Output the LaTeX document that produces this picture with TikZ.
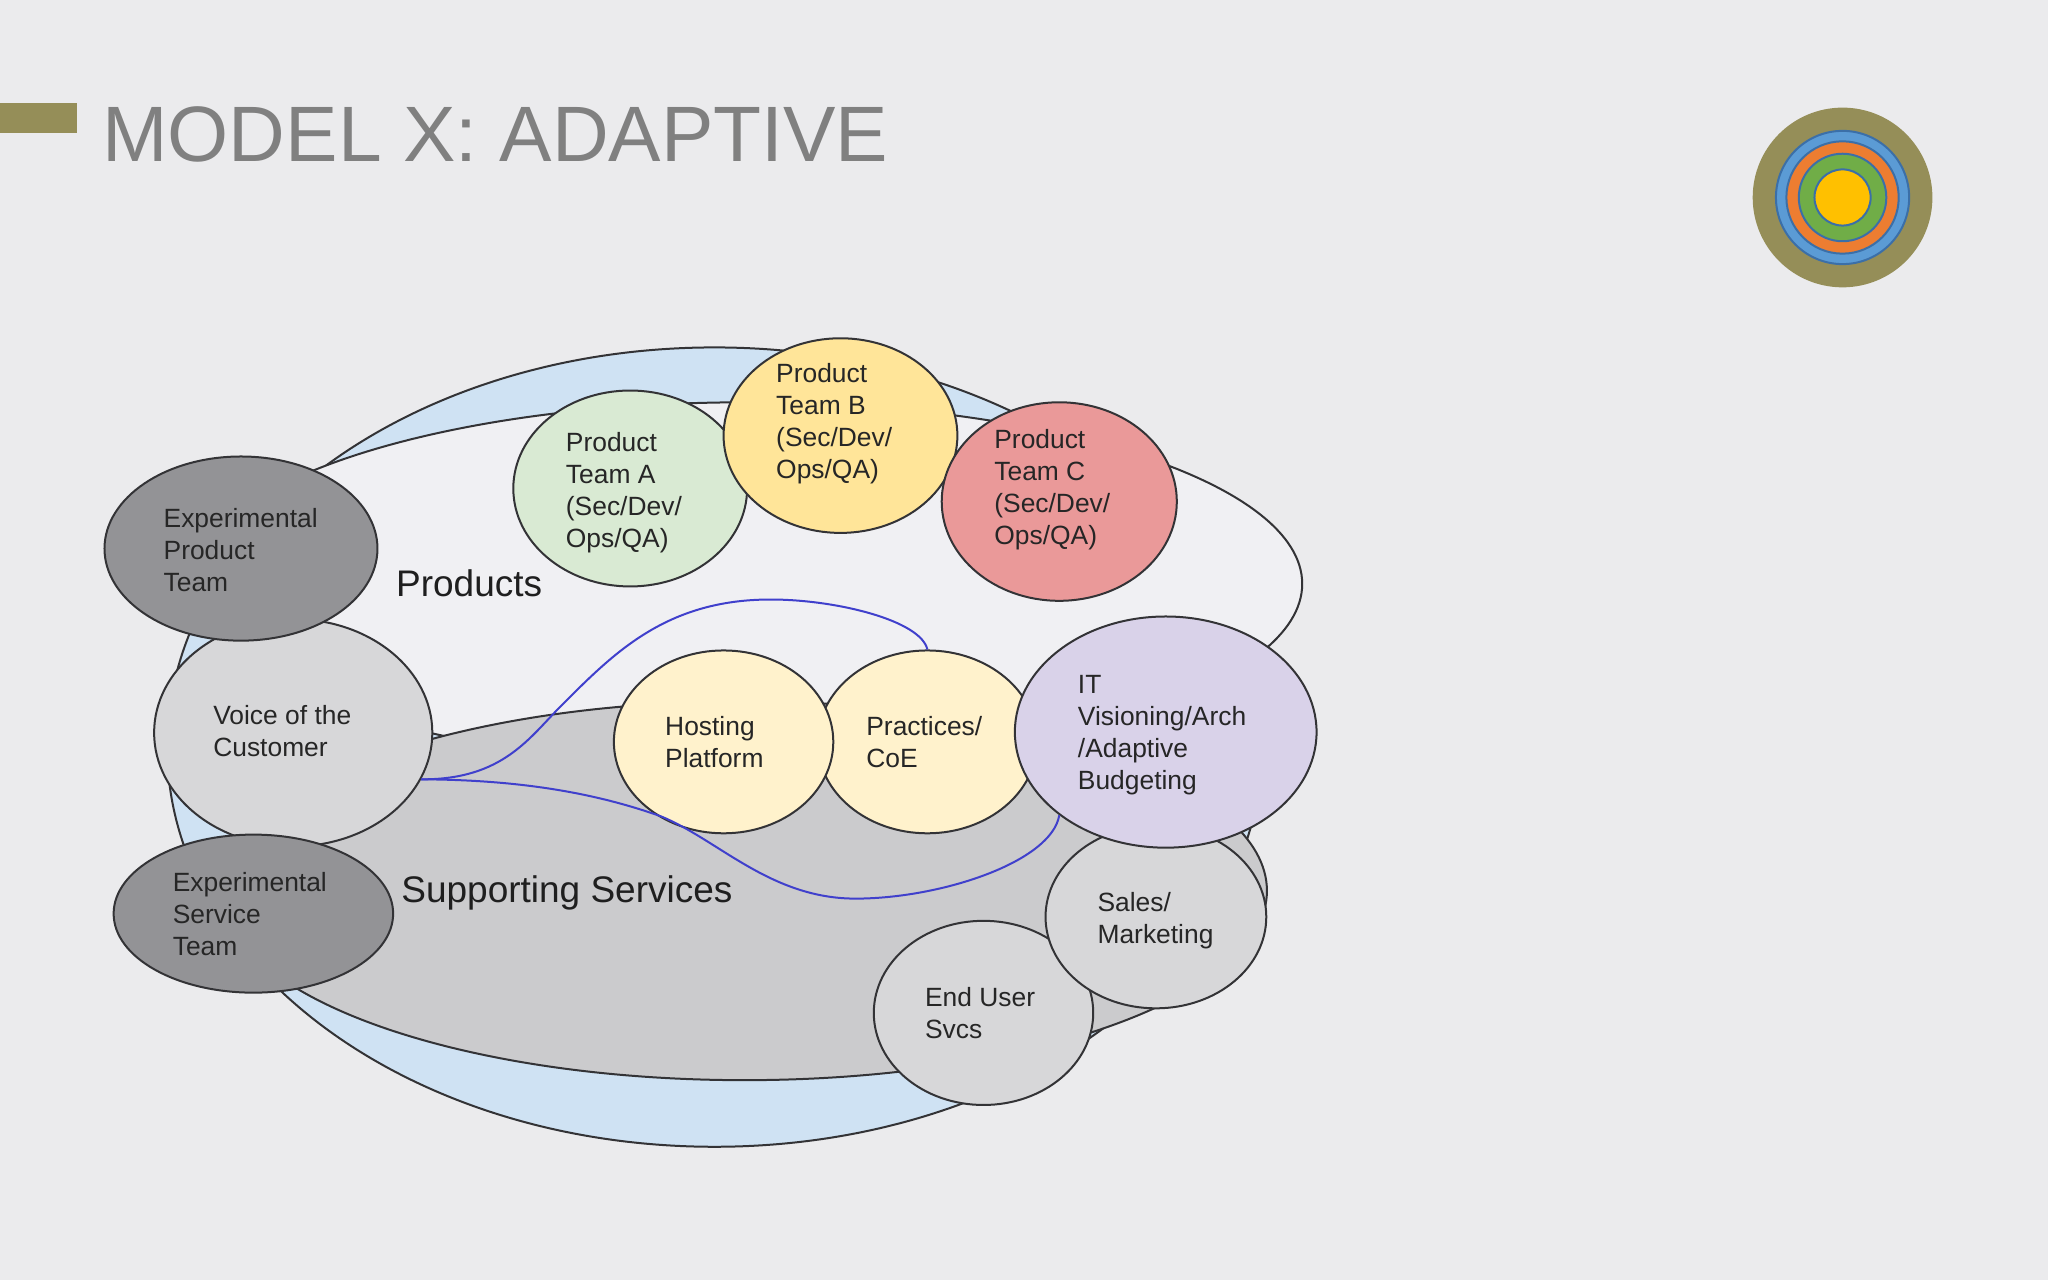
\documentclass[tikz,border=0pt]{standalone}
\usepackage{fontspec}
\setmainfont{Liberation Sans}
\usetikzlibrary{shapes.geometric}
\definecolor{bgc}{HTML}{EBEBED}
\definecolor{olive}{HTML}{958E58}
\definecolor{edgec}{HTML}{333336}
\definecolor{curvec}{HTML}{4040CC}
\definecolor{ringc}{HTML}{3B6FA8}
\definecolor{bluefill}{HTML}{CFE2F3}
\definecolor{prodfill}{HTML}{F0F0F3}
\definecolor{greyfill}{HTML}{CBCBCD}
\definecolor{darkgrey}{HTML}{939396}
\definecolor{lightgrey}{HTML}{D7D7D9}
\definecolor{teamA}{HTML}{D9EAD3}
\definecolor{teamB}{HTML}{FFE599}
\definecolor{teamC}{HTML}{EA9999}
\definecolor{cream}{HTML}{FFF2CC}
\definecolor{lilac}{HTML}{D9D2E9}
\definecolor{ringblue}{HTML}{5B9BD5}
\definecolor{ringorange}{HTML}{ED7D31}
\definecolor{ringgreen}{HTML}{70AD47}
\definecolor{ringyellow}{HTML}{FFC000}
\tikzset{
  x=0.6531pt, y=-0.6531pt,
  ell/.style n args={3}{ellipse, draw=edgec, line width=1pt, fill=#3, inner sep=0pt, minimum width=#1*0.6531pt, minimum height=#2*0.6531pt},
  lbl/.style={anchor=west, inner sep=0pt, align=left, text=black!85, font=\fontsize{13.2}{16}\selectfont},
  biglbl/.style={anchor=west, inner sep=0pt, text=black!88, font=\fontsize{18.5}{22}\selectfont},
  link/.style={draw=curvec, line width=1pt},
  ring/.style n args={2}{circle, draw=ringc, line width=1pt, fill=#2, inner sep=0pt, minimum size=#1*0.6531pt}
}
\begin{document}
\begin{tikzpicture}
\useasboundingbox (0,0) rectangle (1568,980);
\fill[bgc] (0,0) rectangle (1568,980);
% title
\fill[olive] (0,79) rectangle (59,102);
\node[anchor=base west, inner sep=0pt, text=black!50, font=\fontsize{39.3}{47}\selectfont] (title) at (78,124) {MODEL X: ADAPTIVE};
% logo
\node[circle, fill=olive, inner sep=0pt, minimum size=137.6*0.6531pt] (logo) at (1410.7,151.2) {};
\node[ring={102}{ringblue}] (r1) at (1410.7,151.2) {};
\node[ring={86}{ringorange}] (r2) at (1410.7,151.2) {};
\node[ring={67}{ringgreen}] (r3) at (1410.7,151.2) {};
\node[ring={43}{ringyellow}] (r4) at (1410.7,151.2) {};
% large ellipses
\node[ell={838}{612}{bluefill}] (outer) at (547,572) {};
\node[ell={850}{278}{prodfill}] (products) at (572,447) {};
\node[ell={800}{290}{greyfill}] (services) at (570,682) {};
% left column
\node[ell={213}{174}{lightgrey}] (voice) at (224.5,561) {};
\node[ell={209}{141}{darkgrey}] (ept) at (184.5,420) {};
\node[ell={214}{121}{darkgrey}] (est) at (194,699.5) {};
% product teams
\node[ell={179}{150}{teamA}] (teama) at (482.5,374) {};
\node[ell={179}{149}{teamB}] (teamb) at (643.5,333.5) {};
\node[ell={180}{152}{teamC}] (teamc) at (811,384) {};
% platform
\node[ell={168}{140}{cream}] (practices) at (710,568) {};
\node[ell={168}{140}{cream}] (hosting) at (554,568) {};
% lower right
\node[ell={168}{141}{lightgrey}] (enduser) at (753,775.5) {};
\node[ell={169}{140}{lightgrey}] (sales) at (885,702) {};
\node[ell={231}{177}{lilac}] (it) at (892.5,560.5) {};
% connectors
\draw[link] (voice.-20) .. controls (385,597) and (405,565) .. (430,540)
  .. controls (470,500) and (510,459) .. (590,459)
  .. controls (640,459) and (705,475) .. (practices.north);
\draw[link] (voice.-20) .. controls (390,597) and (450,605) .. (506,625)
  .. controls (550,643) and (590,688) .. (655,688)
  .. controls (720,688) and (805,660) .. (it.218);
% labels
\node[biglbl] (tproducts) at (303,446.5) {Products};
\node[biglbl] (tservices) at (307,684) {Supporting Services};
\node[lbl] (tept) at (125,421) {Experimental\\Product\\Team};
\node[lbl] (tvoice) at (163,560) {Voice of the\\Customer};
\node[lbl] (test) at (132,700) {Experimental\\Service\\Team};
\node[lbl] (ta) at (433,377) {Product\\Team A\\(Sec/Dev/\\Ops/QA)};
\node[lbl] (tb) at (594,324) {Product\\Team B\\(Sec/Dev/\\Ops/QA)};
\node[lbl] (tc) at (761,375) {Product\\Team C\\(Sec/Dev/\\Ops/QA)};
\node[lbl] (th) at (509,568) {Hosting\\Platform};
\node[lbl] (tp) at (663,568) {Practices/\\CoE};
\node[lbl] (tit) at (825,563) {IT\\Visioning/Arch\\/Adaptive\\Budgeting};
\node[lbl] (ts) at (840,705) {Sales/\\Marketing};
\node[lbl] (te) at (708,776) {End User\\Svcs};
\end{tikzpicture}
\end{document}
